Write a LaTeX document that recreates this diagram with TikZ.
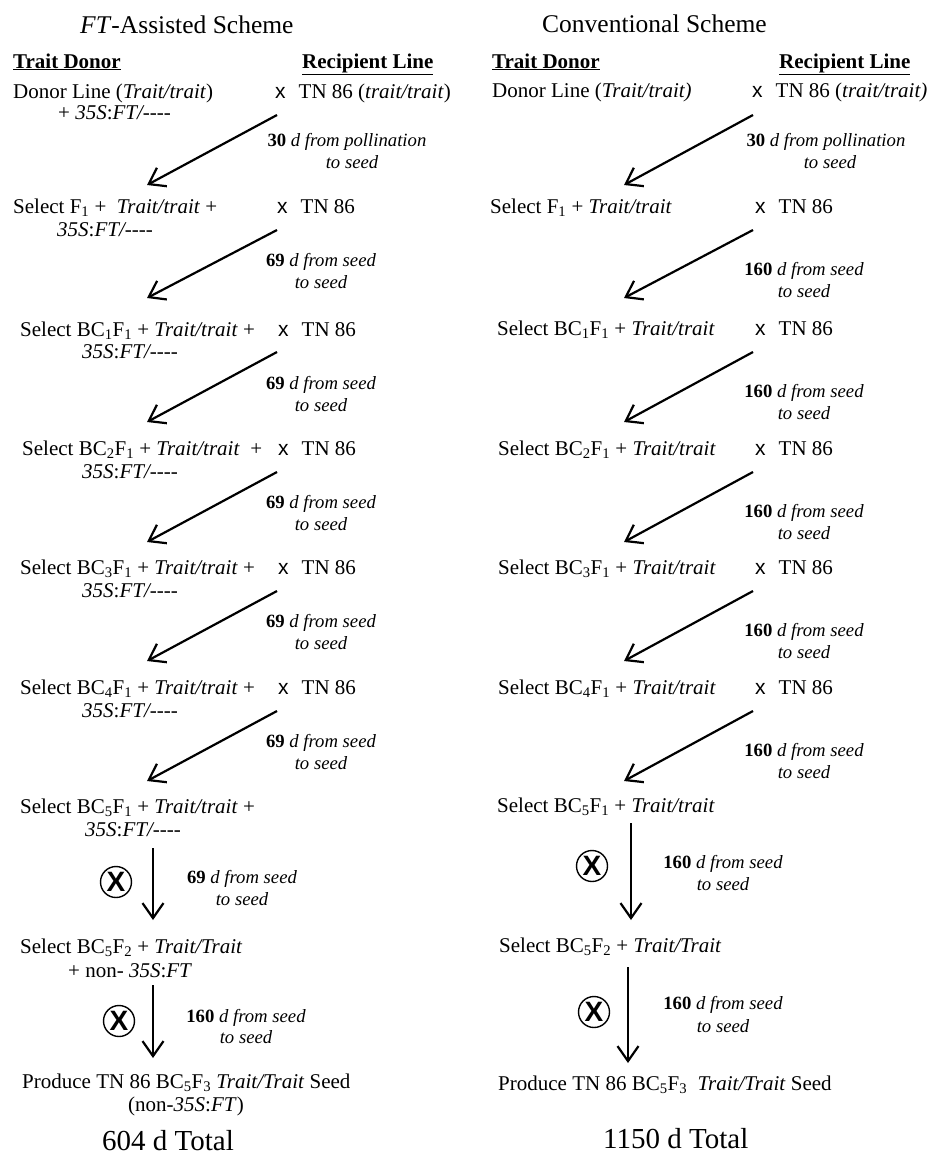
\documentclass[tikz,border=0pt]{standalone}
\usepackage{fontspec}
\setmainfont{Liberation Serif}
\newfontfamily\sansx{Liberation Sans}
\usetikzlibrary{arrows.meta}
\newcommand{\crs}{{\sansx x}\hspace{13pt}}
\newcommand{\sub}[1]{\textsubscript{#1}}
\newcommand{\dsh}{-{}-{}-{}-}
\newcommand{\ftl}{\textit{35S}:\textit{FT/\dsh}}
\begin{document}
\begin{tikzpicture}[x=1pt,y=-1pt,
  txt/.style={anchor=base west, inner sep=0pt, font=\fontsize{21}{21}\selectfont},
  lbl/.style={anchor=base, inner sep=0pt, font=\fontsize{18.7}{22}\selectfont\itshape},
  hdr/.style={anchor=base west, inner sep=0pt, font=\fontsize{21}{21}\selectfont\bfseries},
  ttl/.style={anchor=base west, inner sep=0pt, font=\fontsize{25.5}{26}\selectfont},
  tot/.style={anchor=base west, inner sep=0pt, font=\fontsize{29}{30}\selectfont},
  flow/.style={line width=2.2pt, -{Straight Barb[length=15pt,width=21pt,line width=2.2pt]}},
  selfing/.style={circle, draw, line width=1.4pt, minimum size=31pt, inner sep=0pt, font=\fontsize{28}{28}\selectfont\sansx\bfseries}
]
\useasboundingbox (0,0) rectangle (942,1159);

% ---------------- titles and headings ----------------
\node[ttl] (t1) at (80,33) {\textit{FT}-Assisted Scheme};
\node[ttl] (t2) at (542,32) {Conventional Scheme};
\node[hdr] (h1) at (13,68) {\underline{Trait Donor}};
\node[hdr] (h2) at (302,68) {\underline{Recipient Line}};
\node[hdr] (h3) at (492,68) {\underline{Trait Donor}};
\node[hdr] (h4) at (779,68) {\underline{Recipient Line}};

% ================= LEFT: FT-assisted =================
\node[txt] (l1a) at (13,98) {Donor Line (\textit{Trait/trait})};
\node[txt] (l1b) at (58,119) {+ \ftl};
\node[txt] (l1x) at (275,98) {\crs TN 86 (\textit{trait/trait})};

\node[txt] (l2a) at (13,213) {Select F\sub{1} + \ \textit{Trait/trait} +};
\node[txt] (l2b) at (57,236) {\ftl};
\node[txt] (l2x) at (277,213) {\crs TN 86};

\node[txt] (l3a) at (20,336) {Select BC\sub{1}F\sub{1} + \textit{Trait/trait} +};
\node[txt] (l3b) at (82,358) {\ftl};
\node[txt] (l3x) at (278,336) {\crs TN 86};

\node[txt] (l4a) at (22,455) {Select BC\sub{2}F\sub{1} + \textit{Trait/trait} \ +};
\node[txt] (l4b) at (82,478) {\ftl};
\node[txt] (l4x) at (278,455) {\crs TN 86};

\node[txt] (l5a) at (20,574) {Select BC\sub{3}F\sub{1} + \textit{Trait/trait} +};
\node[txt] (l5b) at (82,597) {\ftl};
\node[txt] (l5x) at (278,574) {\crs TN 86};

\node[txt] (l6a) at (20,694) {Select BC\sub{4}F\sub{1} + \textit{Trait/trait} +};
\node[txt] (l6b) at (82,717) {\ftl};
\node[txt] (l6x) at (278,694) {\crs TN 86};

\node[txt] (l7a) at (20,813) {Select BC\sub{5}F\sub{1} + \textit{Trait/trait} +};
\node[txt] (l7b) at (85,836) {\ftl};

\node[txt] (l8a) at (20,953) {Select BC\sub{5}F\sub{2} + \textit{Trait/Trait}};
\node[txt] (l8b) at (68,977) {+ non- \textit{35S}:\textit{FT}};

\node[txt] (l9a) at (22,1088) {Produce TN 86 BC\sub{5}F\sub{3} \textit{Trait/Trait} Seed};
\node[txt] (l9b) at (128,1111) {(non-\textit{35S}:\textit{FT})};

\node[tot] (ltot) at (102,1150) {604 d Total};

% left diagonal arrows
\coordinate (la1s) at (277,115); \coordinate (la1e) at (147,185);
\coordinate (la2s) at (277,230); \coordinate (la2e) at (147,298);
\coordinate (la3s) at (277,352); \coordinate (la3e) at (147,422);
\coordinate (la4s) at (277,472); \coordinate (la4e) at (147,542);
\coordinate (la5s) at (277,591); \coordinate (la5e) at (147,661);
\coordinate (la6s) at (277,711); \coordinate (la6e) at (147,781);
\foreach \i in {1,...,6} \draw[flow] (la\i s) -- (la\i e);

\node[lbl] (ll1a) at (347,146) {\textup{\textbf{30}} d from pollination};
\node[lbl] (ll1b) at (352,168) {to seed};
\foreach \i/\b in {2/213,3/336,4/455,5/574,6/694}{
  \node[lbl] (ll\i a) at (321,\b+53) {\textup{\textbf{69}} d from seed};
  \node[lbl] (ll\i b) at (321,\b+75) {to seed};
}

% left vertical arrows
\coordinate (lv1s) at (153,848); \coordinate (lv1e) at (153,920);
\coordinate (lv2s) at (153,985); \coordinate (lv2e) at (153,1058);
\draw[flow] (lv1s) -- (lv1e);
\draw[flow] (lv2s) -- (lv2e);
\node[selfing] (lx1) at (116,882) {X};
\node[selfing] (lx2) at (119,1021) {X};
\node[lbl] (ll7a) at (242,883) {\textup{\textbf{69}} d from seed};
\node[lbl] (ll7b) at (242,905) {to seed};
\node[lbl] (ll8a) at (246,1022) {\textup{\textbf{160}} d from seed};
\node[lbl] (ll8b) at (246,1043) {to seed};

% ================= RIGHT: conventional =================
\node[txt] (r1a) at (492,97) {Donor Line (\textit{Trait/trait)}};
\node[txt] (r1x) at (752,97) {\crs TN 86 (\textit{trait/trait)}};

\node[txt] (r2a) at (490,213) {Select F\sub{1} + \textit{Trait/trait}};
\node[txt] (r2x) at (755,213) {\crs TN 86};
\node[txt] (r3a) at (497,335) {Select BC\sub{1}F\sub{1} + \textit{Trait/trait}};
\node[txt] (r3x) at (755,335) {\crs TN 86};
\node[txt] (r4a) at (498,455) {Select BC\sub{2}F\sub{1} + \textit{Trait/trait}};
\node[txt] (r4x) at (755,455) {\crs TN 86};
\node[txt] (r5a) at (498,574) {Select BC\sub{3}F\sub{1} + \textit{Trait/trait}};
\node[txt] (r5x) at (755,574) {\crs TN 86};
\node[txt] (r6a) at (498,694) {Select BC\sub{4}F\sub{1} + \textit{Trait/trait}};
\node[txt] (r6x) at (755,694) {\crs TN 86};
\node[txt] (r7a) at (497,812) {Select BC\sub{5}F\sub{1} + \textit{Trait/trait}};
\node[txt] (r8a) at (499,952) {Select BC\sub{5}F\sub{2} + \textit{Trait/Trait}};
\node[txt] (r9a) at (498,1090) {Produce TN 86 BC\sub{5}F\sub{3} \ \textit{Trait/Trait} Seed};

\node[tot] (rtot) at (603,1148) {1150 d Total};

% right diagonal arrows
\coordinate (ra1s) at (753,115); \coordinate (ra1e) at (624,185);
\coordinate (ra2s) at (753,230); \coordinate (ra2e) at (624,298);
\coordinate (ra3s) at (753,352); \coordinate (ra3e) at (624,422);
\coordinate (ra4s) at (753,472); \coordinate (ra4e) at (624,542);
\coordinate (ra5s) at (753,591); \coordinate (ra5e) at (624,661);
\coordinate (ra6s) at (753,711); \coordinate (ra6e) at (624,781);
\foreach \i in {1,...,6} \draw[flow] (ra\i s) -- (ra\i e);

\node[lbl] (rl1a) at (826,146) {\textup{\textbf{30}} d from pollination};
\node[lbl] (rl1b) at (830,168) {to seed};
\foreach \i/\b in {2/213,3/335,4/455,5/574,6/694}{
  \node[lbl] (rl\i a) at (804,\b+62) {\textup{\textbf{160}} d from seed};
  \node[lbl] (rl\i b) at (804,\b+84) {to seed};
}

% right vertical arrows
\coordinate (rv1s) at (631,823); \coordinate (rv1e) at (631,920);
\coordinate (rv2s) at (628,967); \coordinate (rv2e) at (628,1063);
\draw[flow] (rv1s) -- (rv1e);
\draw[flow] (rv2s) -- (rv2e);
\node[selfing] (rx1) at (592,866) {X};
\node[selfing] (rx2) at (594,1012) {X};
\node[lbl] (rl7a) at (723,868) {\textup{\textbf{160}} d from seed};
\node[lbl] (rl7b) at (723,890) {to seed};
\node[lbl] (rl8a) at (723,1009) {\textup{\textbf{160}} d from seed};
\node[lbl] (rl8b) at (723,1032) {to seed};
\end{tikzpicture}
\end{document}
